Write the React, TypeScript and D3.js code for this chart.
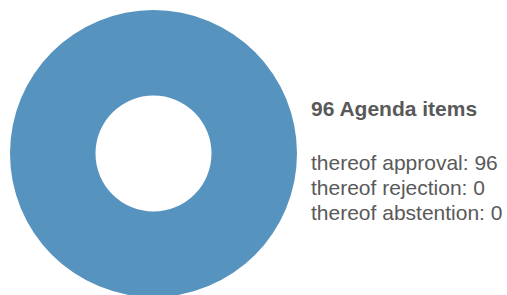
import { useEffect, useRef } from 'react';
import * as d3 from 'd3';

const categories = ['approval', 'rejection', 'abstention'];
const values = [96, 0, 0];
const colors = ['#5793bf', '#d9534f', '#aaaaaa'];
const total = 96;

const width = 507;
const height = 295;

export default function App() {
  const svgRef = useRef<SVGSVGElement>(null);

  useEffect(() => {
    if (!svgRef.current) return;
    const svg = d3.select(svgRef.current);
    svg.selectAll('*').remove();

    const cx = 153.5;
    const cy = 153.5;
    const outer = 143.5;
    const inner = 58;

    const pie = d3.pie<number>().sort(null).value(d => d);
    const arc = d3.arc<d3.PieArcDatum<number>>().innerRadius(inner).outerRadius(outer);

    const g = svg.append('g').attr('transform', `translate(${cx},${cy})`);
    g.selectAll('path')
      .data(pie(values))
      .join('path')
      .attr('d', arc)
      .attr('fill', (_, i) => colors[i]);

    // Legend text
    const tx = 311;
    svg.append('text')
      .attr('x', tx)
      .attr('y', 115.5)
      .attr('fill', '#595959')
      .attr('font-family', 'Arial, "Liberation Sans", sans-serif')
      .attr('font-size', '21px')
      .attr('font-weight', 'bold')
      .text(`${total} Agenda items`);

    categories.forEach((c, i) => {
      svg.append('text')
        .attr('x', tx)
        .attr('y', 169.5 + i * 25)
        .attr('fill', '#595959')
        .attr('font-family', 'Arial, "Liberation Sans", sans-serif')
        .attr('font-size', '21px')
        .text(`thereof ${c}: ${values[i]}`);
    });
  }, []);

  return (
    <svg
      ref={svgRef}
      width={width}
      height={height}
      style={{ position: 'absolute', left: 0, top: 0, background: '#fff' }}
    />
  );
}
